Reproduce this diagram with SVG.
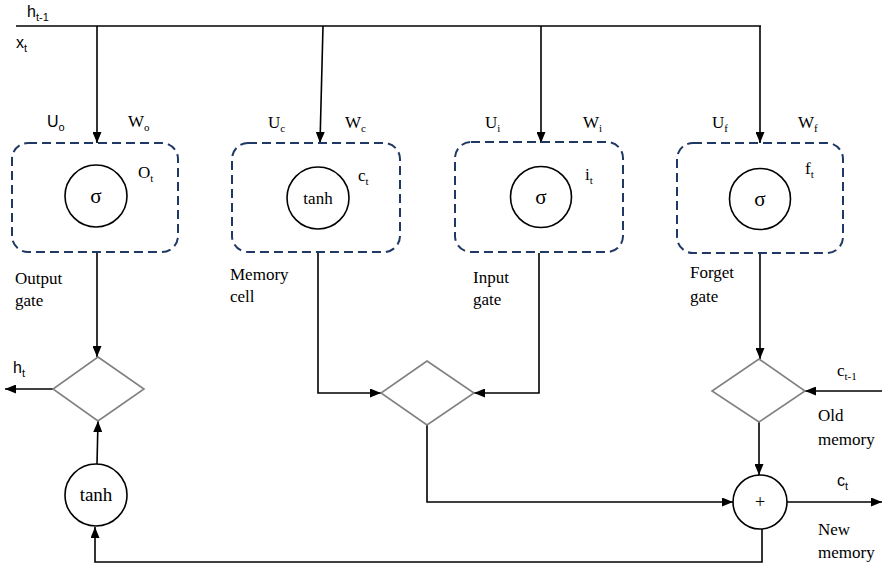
<svg xmlns="http://www.w3.org/2000/svg" width="882" height="568" viewBox="0 0 882 568">
<style>
.box{fill:none;stroke:#1F3864;stroke-width:2;stroke-dasharray:9 5}
.circ{fill:#fff;stroke:#000;stroke-width:1.6}
.dia{fill:#fff;stroke:#808080;stroke-width:1.6}
.ln{fill:none;stroke:#000;stroke-width:1.6}
.ar{marker-end:url(#ah)}
.serif{font-family:"Liberation Serif","Times New Roman",serif;font-size:17px;fill:#000}
.sans{font-family:"Liberation Sans",Arial,sans-serif;font-size:15px;fill:#000}
.sub{font-size:11px}
.mid{text-anchor:middle}
</style>
<defs>
<marker id="ah" markerUnits="userSpaceOnUse" markerWidth="11" markerHeight="9" refX="11" refY="4.5" orient="auto">
<path d="M0,0 L11,4.5 L0,9 z" fill="#000"/>
</marker>
</defs>

<g id="connectors">
<line class="ln" x1="16" y1="26" x2="761" y2="26"/>
<line class="ln ar" x1="97" y1="26" x2="97" y2="143"/>
<line class="ln ar" x1="323" y1="26" x2="320" y2="143"/>
<line class="ln ar" x1="541" y1="26" x2="541" y2="143"/>
<line class="ln ar" x1="760" y1="26" x2="760" y2="143"/>
<line class="ln ar" x1="97" y1="253" x2="97" y2="357"/>
<line class="ln ar" x1="53" y1="389" x2="5" y2="389"/>
<line class="ln ar" x1="97" y1="464" x2="98" y2="421"/>
<polyline class="ln ar" points="762,529 762,562 95,562 95,527"/>
<polyline class="ln ar" points="318,253 318,393 381,393"/>
<polyline class="ln ar" points="539,253 539,393 474,393"/>
<polyline class="ln ar" points="427,425 427,502 733,502"/>
<line class="ln ar" x1="760" y1="253" x2="760" y2="359"/>
<line class="ln ar" x1="882" y1="391" x2="805" y2="391"/>
<line class="ln ar" x1="759" y1="422" x2="759" y2="475"/>
<line class="ln ar" x1="787" y1="502" x2="882" y2="502"/>
</g>

<g id="inputs">
<text class="sans" x="27" y="17" style="font-size:16px">h<tspan class="sub" dy="4">t-1</tspan></text>
<text class="sans" x="16" y="48" style="font-size:16px">x<tspan class="sub" dy="4">t</tspan></text>
</g>

<g id="output-gate">
<rect class="box" x="12" y="143" width="166" height="109" rx="16"/>
<circle class="circ" cx="96" cy="196" r="31"/>
<text class="serif mid" x="96" y="203" style="font-size:21px">σ</text>
<text class="sans" x="47" y="127" style="font-size:16px">U<tspan class="sub" dy="4">o</tspan></text>
<text class="serif" x="128" y="127">W<tspan class="sub" dy="4">o</tspan></text>
<text class="serif" x="138" y="178">O<tspan class="sub" dy="4">t</tspan></text>
<text class="serif" x="15" y="284">Output</text>
<text class="serif" x="15" y="306">gate</text>
</g>

<g id="memory-cell">
<rect class="box" x="232" y="143" width="168" height="109" rx="16"/>
<circle class="circ" cx="318" cy="198" r="31"/>
<text class="serif mid" x="318" y="204">tanh</text>
<text class="serif" x="268" y="128">U<tspan class="sub" dy="4">c</tspan></text>
<text class="serif" x="345" y="128">W<tspan class="sub" dy="4">c</tspan></text>
<text class="serif" x="358" y="181">c<tspan class="sub" dy="4">t</tspan></text>
<text class="serif" x="230" y="280">Memory</text>
<text class="serif" x="230" y="302">cell</text>
</g>

<g id="input-gate">
<rect class="box" x="455" y="142" width="168" height="110" rx="16"/>
<circle class="circ" cx="541" cy="197" r="30.5"/>
<text class="serif mid" x="541" y="204" style="font-size:21px">σ</text>
<text class="serif" x="485" y="128">U<tspan class="sub" dy="4">i</tspan></text>
<text class="serif" x="583" y="128">W<tspan class="sub" dy="4">i</tspan></text>
<text class="serif" x="585" y="180">i<tspan class="sub" dy="4">t</tspan></text>
<text class="serif" x="473" y="283">Input</text>
<text class="serif" x="473" y="305">gate</text>
</g>

<g id="forget-gate">
<rect class="box" x="677" y="143" width="166" height="110" rx="16"/>
<circle class="circ" cx="760" cy="199" r="30.5"/>
<text class="serif mid" x="760" y="206" style="font-size:21px">σ</text>
<text class="serif" x="712" y="128">U<tspan class="sub" dy="4">f</tspan></text>
<text class="serif" x="798" y="128">W<tspan class="sub" dy="4">f</tspan></text>
<text class="serif" x="805" y="174">f<tspan class="sub" dy="4">t</tspan></text>
<text class="serif" x="690" y="278">Forget</text>
<text class="serif" x="690" y="302">gate</text>
</g>

<g id="output-mult">
<polygon class="dia" points="98,357 144,389 98,421 53,389"/>
<text class="sans" x="13" y="373" style="font-size:16px">h<tspan class="sub" dy="4">t</tspan></text>
</g>

<g id="tanh-out">
<circle class="circ" cx="96" cy="495" r="31"/>
<text class="serif mid" x="96" y="501" style="font-size:19px">tanh</text>
</g>

<g id="input-mult">
<polygon class="dia" points="427,361 474,393 427,425 381,393"/>
</g>

<g id="forget-mult">
<polygon class="dia" points="759,359 805,391 759,422 712,391"/>
<text class="serif" x="837" y="376">c<tspan class="sub" dy="4">t-1</tspan></text>
<text class="serif" x="818" y="421">Old</text>
<text class="serif" x="818" y="445">memory</text>
</g>

<g id="sum">
<circle class="circ" cx="760" cy="502" r="27"/>
<text class="serif mid" x="760" y="508" style="font-size:18px">+</text>
<text class="sans" x="837" y="486" style="font-size:16px">c<tspan class="sub" dy="4">t</tspan></text>
<text class="serif" x="818" y="535">New</text>
<text class="serif" x="818" y="558">memory</text>
</g>
</svg>
